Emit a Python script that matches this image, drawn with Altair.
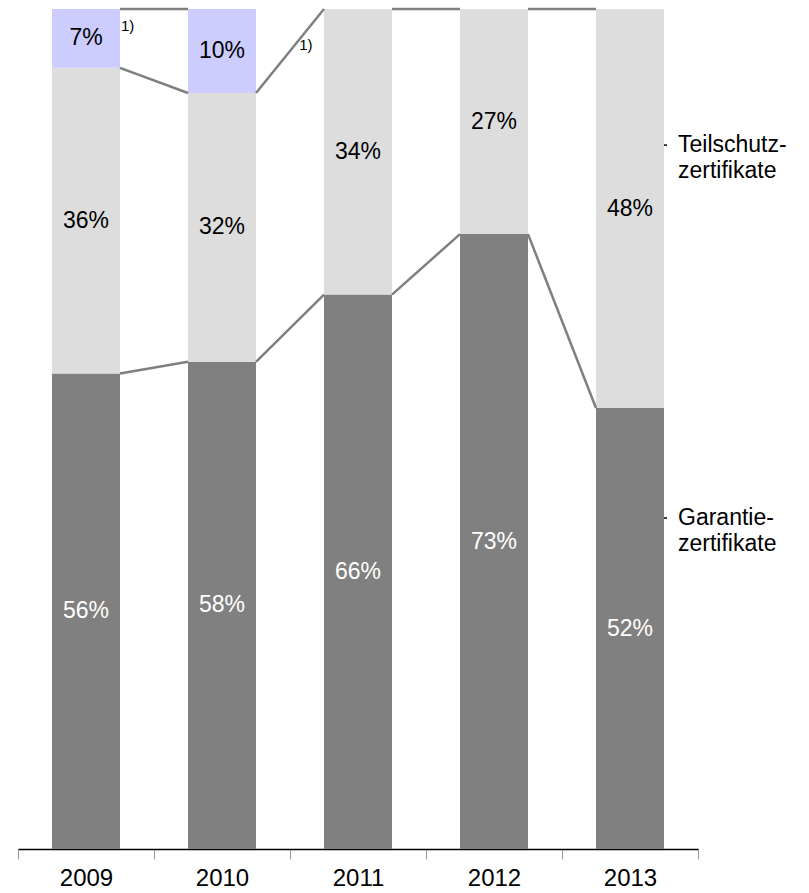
import json
import altair as alt
import pandas as pd

# ---- data ----
years = ["2009", "2010", "2011", "2012", "2013"]
garantie = [56.6, 58.0, 66.0, 73.2, 52.5]
teilschutz = [36.4, 32.0, 34.0, 26.8, 47.5]
sonstige = [7.0, 10.0, 0.0, 0.0, 0.0]
garantie_lbl = ["56%", "58%", "66%", "73%", "52%"]
teilschutz_lbl = ["36%", "32%", "34%", "27%", "48%"]
sonstige_lbl = ["7%", "10%", "", "", ""]
series_names = ["Garantiezertifikate", "Teilschutzzertifikate", "Sonstige"]
series_colors = ["#808080", "#dddddd", "#ccccff"]
series_text_colors = ["#ffffff", "#000000", "#000000"]
side_labels = ["Teilschutz-\nzertifikate", "Garantie-\nzertifikate"]
side_label_values = [83.8, 39.4]
footnote_text = ["1)", "1)"]
footnote_x = [0.75, 2.06]
footnote_y = [98.0, 95.7]

FONT = "Liberation Sans"
BAR_HALF = 0.25

# ---- build tables ----
seg_rows = []
series_vals = [garantie, teilschutz, sonstige]
series_lbls = [garantie_lbl, teilschutz_lbl, sonstige_lbl]
for i, yr in enumerate(years):
    base = 0.0
    for s, name in enumerate(series_names):
        v = series_vals[s][i]
        if v > 0:
            seg_rows.append(dict(year=yr, series=name, x0=i + 0.5 - BAR_HALF, x1=i + 0.5 + BAR_HALF,
                                 y0=base, y1=base + v, mid=base + v / 2,
                                 label=series_lbls[s][i], tcolor=series_text_colors[s]))
        base += v
segs = pd.DataFrame(seg_rows)

line_rows = []
for i in range(len(years) - 1):
    a0 = garantie[i]; b0 = garantie[i + 1]
    line_rows.append(dict(xa=i + 0.5 + BAR_HALF, xb=i + 1.5 - BAR_HALF, ya=a0, yb=b0))
    a1 = a0 + teilschutz[i]; b1 = b0 + teilschutz[i + 1]
    line_rows.append(dict(xa=i + 0.5 + BAR_HALF, xb=i + 1.5 - BAR_HALF, ya=a1, yb=b1))
    if sonstige[i] > 0 and sonstige[i + 1] > 0:
        line_rows.append(dict(xa=i + 0.5 + BAR_HALF, xb=i + 1.5 - BAR_HALF,
                              ya=a1 + sonstige[i], yb=b1 + sonstige[i + 1]))
lines = pd.DataFrame(line_rows)

n = len(years)
side = pd.DataFrame(dict(label=side_labels, y=side_label_values,
                         x=[n - 0.5 + BAR_HALF] * 2, x2=[n - 0.5 + BAR_HALF + 0.022] * 2))
notes = pd.DataFrame(dict(t=footnote_text, x=footnote_x, y=footnote_y))

W, H = 680, 840
xscale = alt.Scale(domain=[0, n], nice=False, zero=False)
yscale = alt.Scale(domain=[0, 100], nice=False, zero=True)

xaxis = alt.Axis(values=list(range(n + 1)), title=None, grid=False,
                 labelExpr="datum.value < %d ? %s[datum.value] : ''" % (n, json.dumps(years)),
                 labelOffset=W / n / 2, labelOverlap=False, labelFlush=False, labelBound=False,
                 labelFont=FONT, labelFontSize=24, labelColor="#000000", labelPadding=7,
                 tickSize=10, tickColor="#999999", tickWidth=1,
                 domainColor="#000000", domainWidth=1.5)

bars = alt.Chart(segs).mark_bar().encode(
    x=alt.X("x0:Q", scale=xscale, axis=xaxis),
    x2="x1:Q",
    y=alt.Y("y0:Q", scale=yscale, axis=None),
    y2="y1:Q",
    color=alt.Color("series:N", scale=alt.Scale(domain=series_names, range=series_colors), legend=None),
)

seg_text = alt.Chart(segs).mark_text(font=FONT, fontSize=23, baseline="middle", align="center").encode(
    x=alt.X("xm:Q", scale=xscale),
    y=alt.Y("mid:Q", scale=yscale),
    text="label:N",
    color=alt.Color("tcolor:N", scale=None),
).transform_calculate(xm="(datum.x0 + datum.x1) / 2")

conn = alt.Chart(lines).mark_rule(color="#7f7f7f", strokeWidth=2.5).encode(
    x=alt.X("xa:Q", scale=xscale), x2="xb:Q",
    y=alt.Y("ya:Q", scale=yscale), y2="yb:Q",
)

side_tick = alt.Chart(side).mark_rule(color="#000000", strokeWidth=1.5).encode(
    x=alt.X("x:Q", scale=xscale), x2="x2:Q", y=alt.Y("y:Q", scale=yscale),
)
side_text = alt.Chart(side).mark_text(font=FONT, fontSize=23, align="left", baseline="middle",
                                      lineBreak="\n", lineHeight=26, dx=14, color="#000000").encode(
    x=alt.X("x:Q", scale=xscale), y=alt.Y("y:Q", scale=yscale), text="label:N",
)

note_text = alt.Chart(notes).mark_text(font=FONT, fontSize=15, align="left", baseline="middle",
                                       dx=1, color="#000000").encode(
    x=alt.X("x:Q", scale=xscale), y=alt.Y("y:Q", scale=yscale), text="t:N",
)

chart = alt.layer(bars, conn, seg_text, side_tick, side_text, note_text).properties(
    width=W, height=H,
    autosize=alt.AutoSizeParams(type="none"),
    padding={"left": 18, "top": 9, "right": 111, "bottom": 44},
    background="#ffffff",
).configure_view(stroke=None)

chart.save("out.html", embed_options={"renderer": "svg", "actions": False})
